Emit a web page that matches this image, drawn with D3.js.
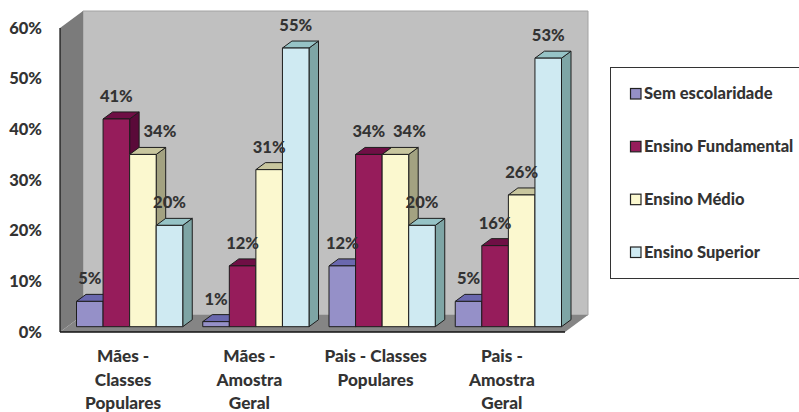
<!DOCTYPE html>
<html>
<head>
<meta charset="utf-8">
<script src="https://cdn.jsdelivr.net/npm/d3@7/dist/d3.min.js"></script>
<style>
  html, body { margin: 0; padding: 0; background: #fff; }
  svg { display: block; }
  text { font-family: Lato, "Open Sans", sans-serif; font-weight: 900; fill: #333; }
</style>
</head>
<body>
<svg id="chart" width="799" height="412"></svg>
<script>
// Escolaridade por grupo
const categories = [
  ["Mães -", "Classes", "Populares"],
  ["Mães -", "Amostra", "Geral"],
  ["Pais - Classes", "Populares"],
  ["Pais -", "Amostra", "Geral"]
];
const seriesNames = ["Sem escolaridade", "Ensino Fundamental", "Ensino Médio", "Ensino Superior"];
const semEscolaridade = [5, 1, 12, 5];
const ensinoFundamental = [41, 12, 34, 16];
const ensinoMedio = [34, 31, 34, 26];
const ensinoSuperior = [20, 55, 20, 53];
const tickValues = [0, 10, 20, 30, 40, 50, 60];

const seriesValues = [semEscolaridade, ensinoFundamental, ensinoMedio, ensinoSuperior];
const palette = [
  { front: "#9590c8", top: "#6a68ae", side: "#54528c" },
  { front: "#961c5b", top: "#6f0f45", side: "#5a0a39" },
  { front: "#fbf8cf", top: "#c8c69e", side: "#a3a281" },
  { front: "#cfeaf2", top: "#96c3c6", side: "#7ea5a5" }
];

const svg = d3.select("#chart");

// Box geometry of the 3D plot
const left = 60, right = 565, floorY = 332, topY = 28;
const wallDx = 23, wallDy = 17;      // depth of the walls and floor
const midDx = 6.5, midDy = 5.3;      // where the front of the bars sits inside that depth
const barDx = 9.5, barDy = 7;        // depth of one bar
const fontSize = "16.5px";

const y = d3.scaleLinear().domain([0, 60]).range([floorY - midDy, topY - midDy]);
const step = (right - left) / categories.length;
const x0 = d3.scaleBand()
  .domain(d3.range(categories.length))
  .range([left + midDx, right + midDx])
  .paddingInner(20 / step)
  .paddingOuter(10 / step);
const x1 = d3.scaleBand().domain(d3.range(seriesNames.length)).range([0, x0.bandwidth()]);

const poly = pts => pts.map(p => p.join(",")).join(" ");

// Walls and floor
const box = svg.append("g");
box.append("polygon")
  .attr("points", poly([[left + wallDx, topY - wallDy], [right + wallDx, topY - wallDy],
                        [right + wallDx, floorY - wallDy], [left + wallDx, floorY - wallDy]]))
  .attr("fill", "#c0c0c0").attr("stroke", "#a2a2a2").attr("stroke-width", 1);
box.append("polygon")
  .attr("points", poly([[left, topY], [left + wallDx, topY - wallDy],
                        [left + wallDx, floorY - wallDy], [left, floorY]]))
  .attr("fill", "#7b7b7b");
box.append("polygon")
  .attr("points", poly([[left, floorY], [right, floorY],
                        [right + wallDx, floorY - wallDy], [left + wallDx, floorY - wallDy]]))
  .attr("fill", "#858585");
box.append("line").attr("x1", left).attr("x2", left).attr("y1", topY).attr("y2", floorY)
  .attr("stroke", "#111").attr("stroke-width", 1.2);
box.append("line").attr("x1", left).attr("x2", right).attr("y1", floorY).attr("y2", floorY)
  .attr("stroke", "#111").attr("stroke-width", 1.5);

// Value axis, aligned with the front edge of the box
const axis = svg.append("g")
  .attr("transform", `translate(42,${midDy})`)
  .call(d3.axisLeft(y).tickValues(tickValues).tickSize(0).tickPadding(0).tickFormat(d => d + "%"));
axis.select(".domain").remove();
axis.selectAll("text").style("font-size", fontSize).style("font-family", "Lato, sans-serif").attr("fill", "#333");

// Bars, drawn left to right so each one covers the side of the previous one
const bars = svg.append("g");
categories.forEach((_, c) => {
  seriesValues.forEach((values, s) => {
    const bx = x0(c) + x1(s), w = x1.bandwidth();
    const by = y(values[c]), base = y(0);
    const col = palette[s];
    const g = bars.append("g").attr("stroke", "#1d1d1d").attr("stroke-width", 1).attr("stroke-linejoin", "round");
    g.append("polygon")
      .attr("points", poly([[bx + w, by], [bx + w + barDx, by - barDy], [bx + w + barDx, base - barDy], [bx + w, base]]))
      .attr("fill", col.side);
    g.append("polygon")
      .attr("points", poly([[bx, by], [bx + barDx, by - barDy], [bx + w + barDx, by - barDy], [bx + w, by]]))
      .attr("fill", col.top);
    g.append("rect")
      .attr("x", bx).attr("y", by).attr("width", w).attr("height", base - by)
      .attr("fill", col.front);
  });
});

// Data labels; the two "Ensino Médio" labels beside taller bars are moved to the right
const labelShift = (c, s) => (s === 2 && c === 0 ? 17 : s === 2 && c === 2 ? 14 : 0);
const labels = svg.append("g").attr("text-anchor", "middle").style("font-size", fontSize);
categories.forEach((_, c) => {
  seriesValues.forEach((values, s) => {
    labels.append("text")
      .attr("x", x0(c) + x1(s) + x1.bandwidth() / 2 + labelShift(c, s))
      .attr("y", y(values[c]) - 17)
      .text(values[c] + "%");
  });
});

// Category labels under the floor
const catLabels = svg.append("g").attr("text-anchor", "middle").style("font-size", "17.2px");
categories.forEach((lines, c) => {
  const cx = left + step * (c + 0.5);
  const t = catLabels.append("text").attr("x", cx).attr("y", 362);
  lines.forEach((line, i) => {
    t.append("tspan").attr("x", cx).attr("dy", i ? 23.6 : 0).text(line);
  });
});

// Legend
const legend = svg.append("g");
legend.append("rect").attr("x", 610.5).attr("y", 67.5).attr("width", 195).attr("height", 211)
  .attr("fill", "#fff").attr("stroke", "#333").attr("stroke-width", 1);
const legendY = d3.scalePoint().domain(seriesNames).range([93.5, 252]);
seriesNames.forEach((name, s) => {
  legend.append("rect")
    .attr("x", 630.5).attr("y", legendY(name) - 5).attr("width", 10.5).attr("height", 10.5)
    .attr("fill", palette[s].front).attr("stroke", "#222").attr("stroke-width", 1.2);
  legend.append("text")
    .attr("x", 644).attr("y", legendY(name) + 5.5)
    .style("font-size", "16.5px")
    .text(name);
});
</script>
</body>
</html>
